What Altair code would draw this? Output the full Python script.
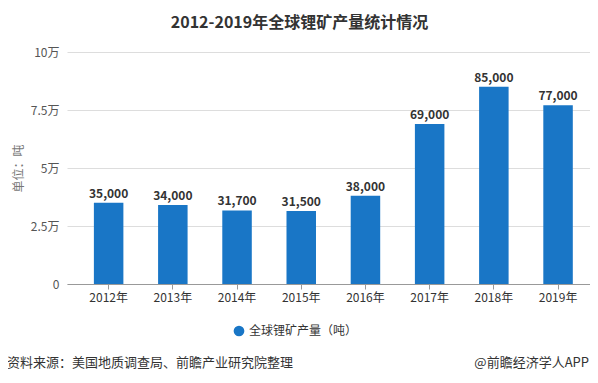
import altair as alt
import pandas as pd

years = ["2012年", "2013年", "2014年", "2015年", "2016年", "2017年", "2018年", "2019年"]
output = [35000, 34000, 31700, 31500, 38000, 69000, 85000, 77000]
series_name = "全球锂矿产量（吨）"
y_ticks = [0, 25000, 50000, 75000, 100000]
title_text = "2012-2019年全球锂矿产量统计情况"
source_text = "资料来源：美国地质调查局、前瞻产业研究院整理"
brand_text = "@前瞻经济学人APP"

FONT = "Noto Sans CJK SC"
W, H = 523, 232
BLUE = "#1976c6"

df = pd.DataFrame({"year": years, "value": output, "series": series_name})

xs = alt.X("year:N", sort=years, title=None,
           scale=alt.Scale(paddingInner=0.54, paddingOuter=0.343, align=0.61),
           axis=alt.Axis(labelAngle=0, labelFontSize=12, labelColor="#333333", labelFont=FONT,
                         domainColor="#999999", tickColor="#999999", tickSize=5, labelPadding=3))
ys = alt.Y("value:Q", title="单位：吨",
           scale=alt.Scale(domain=[0, 100000], nice=False),
           axis=alt.Axis(values=y_ticks, labelExpr="datum.value == 0 ? '0' : (datum.value/10000) + '万'",
                         labelFontSize=12, labelColor="#555555", labelFont=FONT, labelPadding=8,
                         domain=False, ticks=False, grid=True, gridColor="#dddddd",
                         titleFont=FONT, titleFontSize=12, titleFontWeight="normal", titleColor="#777777",
                         titleX=-49, titleY=116, titleAngle=270, titleAlign="center",
                         titleBaseline="middle"))

bars = alt.Chart(df).mark_bar(size=29.5).encode(
    x=xs, y=ys,
    color=alt.Color("series:N", scale=alt.Scale(range=[BLUE]),
                    legend=alt.Legend(title=None, orient="none", legendX=166, legendY=273,
                                      symbolType="circle", symbolSize=115, labelFontSize=12,
                                      labelFont=FONT, labelColor="#333333", symbolStrokeWidth=0)),
)
labels = alt.Chart(df).mark_text(dy=-9, fontSize=12, fontWeight="bold", font=FONT, color="#333333").encode(
    x=alt.X("year:N", sort=years), y="value:Q", text=alt.Text("value:Q", format=",")
)
src = alt.Chart(pd.DataFrame({"t": [source_text]})).mark_text(
    align="left", baseline="middle", fontSize=13, font=FONT, color="#333333").encode(
    x=alt.value(-60), y=alt.value(311), text="t:N")
brand = alt.Chart(pd.DataFrame({"t": [brand_text]})).mark_text(
    align="right", baseline="middle", fontSize=13, font=FONT, color="#333333").encode(
    x=alt.value(522), y=alt.value(311), text="t:N")

chart = alt.layer(bars, labels, src, brand).properties(
    width=W, height=H,
    title=alt.TitleParams(title_text, font=FONT, fontSize=16, fontWeight="bold", color="#333333",
                          anchor="middle", dx=-29, offset=15),
    autosize=alt.AutoSizeParams(type="none"),
    padding={"left": 59, "top": 44, "right": 0, "bottom": 91},
).configure_view(stroke=None).configure_axis(labelFont=FONT)

chart.save("out.html", embed_options={"renderer": "svg", "actions": False})
